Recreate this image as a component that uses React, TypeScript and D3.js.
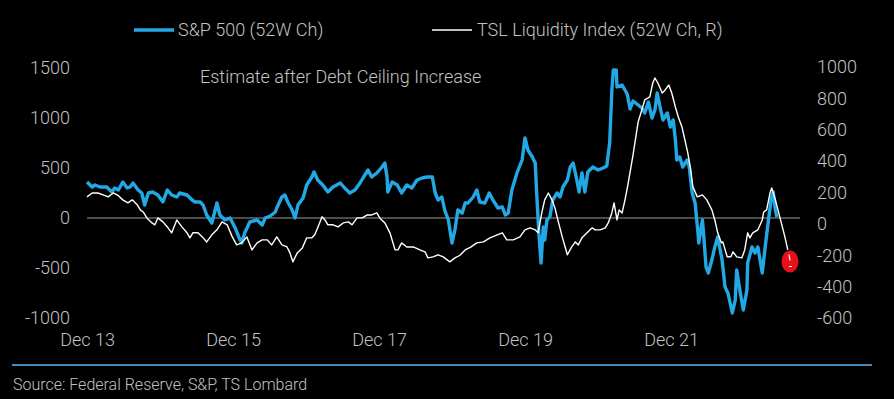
import React, { useEffect, useRef } from "react";
import { select, scaleLinear, axisLeft, axisRight, axisBottom, line } from "d3";

// S&P 500, 52W change (pts) as [decimal year, value]
const spx: [number, number][] = [
    [2013.92, 360], [2013.99, 310], [2014.03, 330], [2014.10, 310], [2014.19, 310], [2014.26, 260],
    [2014.30, 300], [2014.35, 280], [2014.41, 360], [2014.47, 300], [2014.51, 310], [2014.55, 350],
    [2014.62, 280], [2014.67, 250], [2014.71, 130], [2014.76, 250], [2014.82, 260], [2014.89, 230],
    [2014.96, 160], [2015.02, 280], [2015.08, 230], [2015.15, 210], [2015.19, 250], [2015.29, 230],
    [2015.36, 180], [2015.40, 160], [2015.47, 160], [2015.51, 130], [2015.56, 30], [2015.63, -50],
    [2015.70, 150], [2015.74, 30], [2015.81, -20], [2015.88, 0], [2015.95, -100], [2016.00, -190],
    [2016.04, -250], [2016.08, -150], [2016.15, -40], [2016.25, -20], [2016.32, -70], [2016.36, 0],
    [2016.43, 20], [2016.50, 60], [2016.52, 100], [2016.59, 210], [2016.63, 230], [2016.67, 160],
    [2016.73, 80], [2016.77, 0], [2016.81, 130], [2016.88, 200], [2016.93, 330], [2017.00, 410],
    [2017.03, 460], [2017.08, 380], [2017.15, 330], [2017.22, 260], [2017.29, 310], [2017.39, 350],
    [2017.45, 300], [2017.52, 250], [2017.59, 280], [2017.66, 350], [2017.70, 400], [2017.77, 480],
    [2017.82, 410], [2017.89, 450], [2017.95, 500], [2018.00, 550], [2018.03, 410], [2018.04, 260],
    [2018.10, 360], [2018.17, 330], [2018.23, 250], [2018.30, 330], [2018.37, 300], [2018.44, 380],
    [2018.51, 400], [2018.58, 410], [2018.65, 410], [2018.69, 250], [2018.73, 180], [2018.78, 210],
    [2018.82, 80], [2018.87, -20], [2018.92, -250], [2018.96, -120], [2019.00, 80], [2019.06, 50],
    [2019.10, 150], [2019.14, 150], [2019.21, 210], [2019.26, 280], [2019.30, 160], [2019.37, 150],
    [2019.43, 250], [2019.48, 180], [2019.55, 100], [2019.61, 110], [2019.65, 30], [2019.69, 50],
    [2019.74, 280], [2019.81, 450], [2019.88, 580], [2019.92, 800], [2019.96, 680], [2020.02, 610],
    [2020.06, 550], [2020.08, 250], [2020.11, -150], [2020.14, -450], [2020.17, -90], [2020.19, -220],
    [2020.22, -20], [2020.26, 10], [2020.30, 180], [2020.36, 250], [2020.40, 210], [2020.44, 310],
    [2020.50, 380], [2020.54, 510], [2020.58, 550], [2020.63, 380], [2020.66, 260], [2020.70, 450],
    [2020.74, 260], [2020.78, 460], [2020.85, 510], [2020.92, 480], [2020.99, 500], [2021.04, 520],
    [2021.08, 750], [2021.11, 1280], [2021.13, 1480], [2021.17, 1480], [2021.18, 1310], [2021.25, 1330],
    [2021.32, 1240], [2021.36, 1090], [2021.40, 1170], [2021.47, 1130], [2021.52, 1100], [2021.56, 1050],
    [2021.61, 1160], [2021.66, 1000], [2021.70, 1080], [2021.73, 1250], [2021.77, 1110], [2021.81, 980],
    [2021.87, 1050], [2021.91, 910], [2021.95, 980], [2021.98, 780], [2022.00, 580], [2022.04, 610],
    [2022.08, 510], [2022.14, 580], [2022.17, 510], [2022.21, 250], [2022.25, 150], [2022.29, -150],
    [2022.30, -250], [2022.35, -20], [2022.37, -190], [2022.40, -490], [2022.43, -550], [2022.48, -420],
    [2022.52, -290], [2022.56, -190], [2022.62, -420], [2022.66, -690], [2022.70, -750], [2022.76, -950],
    [2022.80, -820], [2022.82, -520], [2022.87, -750], [2022.91, -920], [2022.96, -720], [2022.97, -450],
    [2023.03, -290], [2023.07, -350], [2023.11, -290], [2023.17, -550], [2023.21, -290], [2023.25, -50],
    [2023.29, 180], [2023.32, 260], [2023.35, 80], [2023.37, 10]
];

// TSL Liquidity Index, 52W change (right axis)
const tsl: [number, number][] = [
    [2013.92, 172], [2013.99, 197], [2014.07, 197], [2014.14, 185], [2014.21, 172], [2014.28, 197],
    [2014.35, 180], [2014.41, 153], [2014.48, 134], [2014.54, 153], [2014.61, 121], [2014.65, 89],
    [2014.69, 76], [2014.74, 38], [2014.81, 6], [2014.85, -6], [2014.89, 38], [2014.96, 13],
    [2015.03, -25], [2015.08, -57], [2015.15, 25], [2015.22, -19], [2015.29, -57], [2015.33, -89],
    [2015.37, -57], [2015.44, -57], [2015.50, -83], [2015.56, -115], [2015.63, -70], [2015.70, -38],
    [2015.77, 13], [2015.84, -6], [2015.91, -83], [2015.97, -134], [2016.04, -121], [2016.11, -83],
    [2016.18, -166], [2016.25, -121], [2016.32, -102], [2016.39, -102], [2016.45, -134], [2016.52, -83],
    [2016.59, -134], [2016.66, -147], [2016.70, -185], [2016.74, -242], [2016.80, -185], [2016.87, -153],
    [2016.93, -89], [2017.00, -89], [2017.04, -70], [2017.08, -25], [2017.14, 45], [2017.18, 25],
    [2017.22, -6], [2017.29, -6], [2017.36, -19], [2017.43, 6], [2017.50, 13], [2017.55, -6],
    [2017.62, 38], [2017.69, 38], [2017.76, 57], [2017.82, 57], [2017.89, 70], [2017.93, 38],
    [2018.00, 6], [2018.07, -57], [2018.14, -166], [2018.18, -166], [2018.23, -121], [2018.30, -147],
    [2018.39, -147], [2018.48, -166], [2018.55, -178], [2018.59, -217], [2018.66, -210], [2018.73, -197],
    [2018.80, -210], [2018.89, -242], [2018.96, -217], [2019.03, -200], [2019.10, -166], [2019.17, -150],
    [2019.26, -121], [2019.35, -115], [2019.44, -89], [2019.54, -70], [2019.61, -57], [2019.67, -102],
    [2019.76, -102], [2019.85, -83], [2019.92, -38], [2019.99, -25], [2020.06, -38], [2020.10, -57],
    [2020.15, 70], [2020.19, 153], [2020.24, 197], [2020.29, 153], [2020.33, 102], [2020.37, 25],
    [2020.43, -83], [2020.47, -147], [2020.50, -197], [2020.56, -147], [2020.61, -115], [2020.65, -134],
    [2020.70, -89], [2020.77, -57], [2020.84, -25], [2020.88, -38], [2020.95, -38], [2021.02, -25],
    [2021.06, 6], [2021.11, 70], [2021.14, 134], [2021.18, 25], [2021.21, 89], [2021.25, 70],
    [2021.29, 153], [2021.33, 250], [2021.40, 440], [2021.47, 650], [2021.52, 726], [2021.56, 790],
    [2021.63, 809], [2021.67, 898], [2021.70, 930], [2021.74, 898], [2021.80, 834], [2021.84, 854],
    [2021.89, 885], [2021.93, 834], [2021.98, 745], [2022.02, 681], [2022.07, 618], [2022.11, 535],
    [2022.15, 452], [2022.19, 344], [2022.22, 236], [2022.28, 172], [2022.35, 185], [2022.41, 153],
    [2022.48, 89], [2022.52, 25], [2022.56, -57], [2022.61, -121], [2022.63, -115], [2022.69, -210],
    [2022.74, -210], [2022.77, -178], [2022.82, -210], [2022.89, -217], [2022.93, -166], [2022.97, -57],
    [2023.00, -89], [2023.04, -57], [2023.11, -38], [2023.17, 25], [2023.19, 76], [2023.23, 89],
    [2023.28, 204], [2023.30, 229], [2023.35, 153], [2023.41, 45], [2023.48, -83], [2023.52, -166]
];

// red marker for the estimate after the debt ceiling increase (right axis)
const estimate: [number, number] = [2023.55, -240];

const leftTicks = [-1000, -500, 0, 500, 1000, 1500];
const rightTicks = [-600, -400, -200, 0, 200, 400, 600, 800, 1000];
const xTicks = [2013.92, 2015.92, 2017.92, 2019.92, 2021.92];
const xTickLabels = ["Dec 13", "Dec 15", "Dec 17", "Dec 19", "Dec 21"];

const BLUE = "#22a8e4";
const GREY = "#c2c2c2";
const FONT = "Roboto, 'Noto Sans', sans-serif";

const x = scaleLinear().domain([2013.92, 2021.92]).range([87, 671]);
const yL = scaleLinear().domain([-1000, 1500]).range([318, 68]);
const yR = scaleLinear().domain([-600, 1000]).range([318, 67]);

export default function App() {
    const leftRef: any = useRef();
    const rightRef: any = useRef();
    const bottomRef: any = useRef();

    useEffect(() => {
        const styleAxis = (g: any) => {
            g.select(".domain").remove();
            g.selectAll("line").remove();
            g.selectAll("text")
                .attr("fill", GREY)
                .attr("font-family", FONT)
                .attr("font-weight", 300)
                .attr("font-size", 18);
        };
        select(leftRef.current)
            .call(axisLeft(yL).tickValues(leftTicks).tickSize(0).tickPadding(0).tickFormat((d: any) => `${d}`))
            .call(styleAxis);
        select(rightRef.current)
            .call(axisRight(yR).tickValues(rightTicks).tickSize(0).tickPadding(0).tickFormat((d: any) => `${d}`))
            .call(styleAxis);
        select(bottomRef.current)
            .call(axisBottom(x).tickValues(xTicks).tickSize(0).tickPadding(0)
                .tickFormat((_d: any, i: number) => xTickLabels[i]))
            .call(styleAxis);
    }, []);

    const spxLine = line<[number, number]>().x((d) => x(d[0])).y((d) => yL(d[1]));
    const tslLine = line<[number, number]>().x((d) => x(d[0])).y((d) => yR(d[1]));

    const ex = x(estimate[0]);
    const ey = yR(estimate[1]);

    return (
        <div style={{ position: "absolute", left: 0, top: 0, width: 894, height: 399, background: "#000" }}>
            <svg width={894} height={399} style={{ display: "block" }}>
                <rect width={894} height={399} fill="#000" />

                {/* legend */}
                <line x1={134} x2={174} y1={30} y2={30} stroke={BLUE} strokeWidth={3.5} />
                <text x={178} y={30} dy="0.35em" fill={GREY} fontFamily={FONT} fontWeight={300} fontSize={18}>
                    S&amp;P 500 (52W Ch)
                </text>
                <line x1={432} x2={472} y1={30} y2={30} stroke="#fff" strokeWidth={1.5} />
                <text x={477} y={30} dy="0.35em" fill={GREY} fontFamily={FONT} fontWeight={300} fontSize={18}>
                    TSL Liquidity Index (52W Ch, R)
                </text>

                <text x={200} y={77} dy="0.35em" fill={GREY} fontFamily={FONT} fontWeight={300} fontSize={18}>
                    Estimate after Debt Ceiling Increase
                </text>

                <g ref={leftRef} transform="translate(70,0)" />
                <g ref={rightRef} transform="translate(817,0)" />
                <g ref={bottomRef} transform="translate(0,333)" />

                <line x1={x(xTicks[0])} x2={800} y1={yL(0)} y2={yL(0)} stroke="#9a9a9a" strokeWidth={1} />

                <path d={spxLine(spx) || ""} fill="none" stroke={BLUE} strokeWidth={3.4} strokeLinejoin="round" />
                <path d={tslLine(tsl) || ""} fill="none" stroke="#fff" strokeWidth={1.4} strokeLinejoin="round" />

                <ellipse cx={ex} cy={ey} rx={8.5} ry={11} fill="#e8101a" />
                <line x1={ex - 1} x2={ex} y1={ey - 7} y2={ey - 1} stroke="#fff" strokeWidth={1.2} />
                <line x1={ex - 1} x2={ex + 2} y1={ey + 5} y2={ey + 5} stroke="#fff" strokeWidth={1} />

                <line x1={12} x2={872} y1={365} y2={365} stroke="#4689bd" strokeWidth={2} />
                <text x={13} y={384} dy="0.35em" fill={GREY} fontFamily={FONT} fontWeight={300} fontSize={16}>
                    Source: Federal Reserve, S&amp;P, TS Lombard
                </text>
            </svg>
        </div>
    );
}
